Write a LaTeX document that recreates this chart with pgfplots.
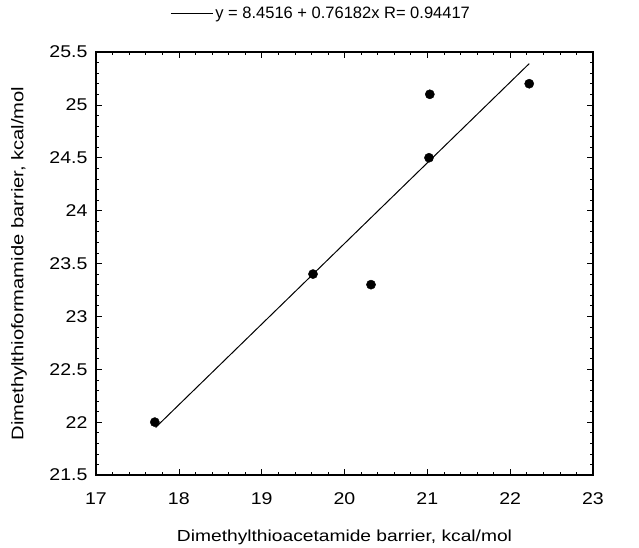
\documentclass[border=0pt]{standalone}
\usepackage{fontspec}
\setmainfont{Liberation Sans}
\newfontfamily\labfont[FakeStretch=1.2]{Liberation Sans}
\newfontfamily\tickfont[FakeStretch=1.15]{Liberation Sans}
\usepackage{pgfplots}
\pgfplotsset{compat=1.18}

\begin{document}
\begin{tikzpicture}
\begin{axis}[
scale only axis,
width=497pt, height=423pt,
xmin=17, xmax=23,
ymin=21.5, ymax=25.5,
xtick={17,18,19,20,21,22,23},
xticklabels={17,18,19,20,21,22,23},
ytick={21.5,22,22.5,23,23.5,24,24.5,25,25.5},
yticklabels={21.5,22,22.5,23,23.5,24,24.5,25,25.5},
minor x tick num=4,
minor y tick num=4,
tick align=inside,
major tick length=6pt,
minor tick length=3pt,
axis line style={line width=1.4pt},
every tick/.style={black, line width=0.6pt},
xticklabel style={font=\tickfont\fontsize{17}{19}\selectfont, yshift=-14pt},
yticklabel style={font=\tickfont\fontsize{17}{19}\selectfont, xshift=-5pt},
xlabel={Dimethylthioacetamide barrier, kcal/mol},
ylabel={Dimethylthioformamide barrier, kcal/mol},
xlabel style={font=\labfont\fontsize{16}{18}\selectfont, at={(axis description cs:0.5,0)}, anchor=center, yshift=-62pt},
ylabel style={font=\labfont\fontsize{16.8}{18}\selectfont, at={(axis description cs:0,0.5)}, anchor=center, yshift=77pt},
legend style={at={(0.453,1.092)}, anchor=center, draw=none, fill=none,
  font=\fontsize{16.5}{18}\selectfont},
legend image code/.code={\draw[#1] (0pt,0pt) -- (42pt,0pt);},
legend cell align=left,
clip=false,
]
\addplot[only marks, mark=*, mark size=4.6pt, black, forget plot]
coordinates {
(17.71, 22.00)(19.62, 23.40)(20.32, 23.30)(21.02, 24.50)(21.03, 25.10)(22.23, 25.20)
};
\addplot[black, line width=1pt]
coordinates {
(17.72, 21.95)(22.23, 25.39)
};
\legend{y = 8.4516 + 0.76182x R= 0.94417}
\end{axis}
\path (current axis.south west) ++(-96pt,-69pt) rectangle ([shift={(46pt,52pt)}]current axis.north east);
\end{tikzpicture}
\end{document}
